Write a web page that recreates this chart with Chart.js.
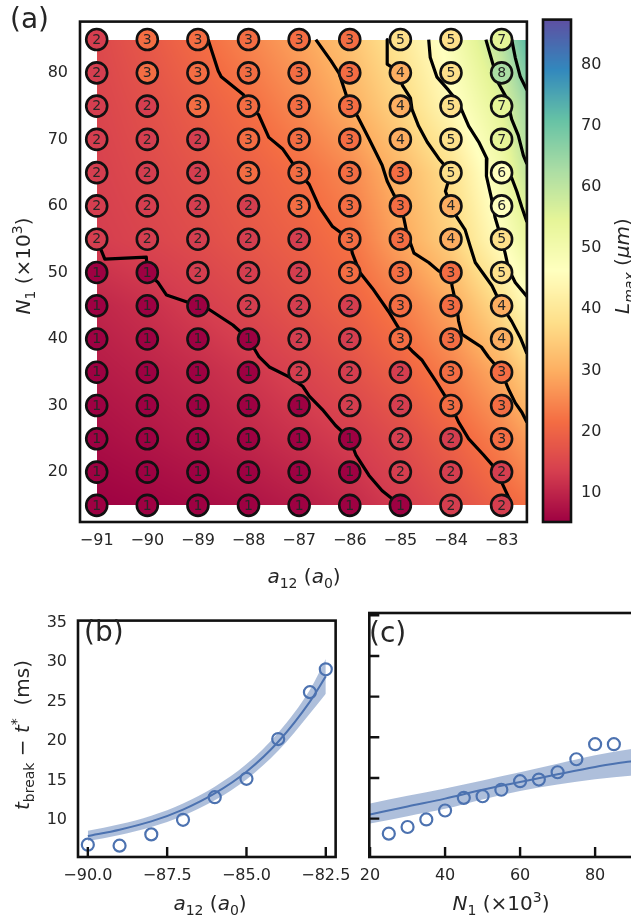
<!DOCTYPE html>
<html>
<head>
<meta charset="utf-8">
<title>Lmax y tiempos de ruptura</title>
<script src="https://cdn.jsdelivr.net/npm/chart.js@4.4.1/dist/chart.umd.min.js"></script>
<style>
  html, body { margin: 0; padding: 0; background: #fff; overflow: hidden; }
  #figura { position: relative; width: 631px; height: 916px; overflow: hidden; background: #fff; }
  #figura canvas { position: absolute; }
</style>
</head>
<body>
<div id="figura">
  <canvas id="mapa" width="540" height="600" style="left:0;top:0"></canvas>
  <canvas id="barra" width="101" height="600" style="left:530px;top:0"></canvas>
  <canvas id="panelB" width="360" height="316" style="left:0;top:600px"></canvas>
  <canvas id="panelC" width="320" height="316" style="left:340px;top:600px"></canvas>
</div>
<script>
// --- DATOS: PANEL (a) ---
const a12Malla = [-91, -90, -89, -88, -87, -86, -85, -84, -83];
const n1Filas = [85, 80, 75, 70, 65, 60, 55, 50, 45, 40, 35, 30, 25, 20, 15];
// número dentro de cada círculo (filas de arriba hacia abajo)
const conteos = [
    [2, 3, 3, 3, 3, 3, 5, 5, 7],
    [2, 3, 3, 3, 3, 3, 4, 5, 8],
    [2, 2, 3, 3, 3, 3, 4, 5, 7],
    [2, 2, 2, 3, 3, 3, 4, 5, 7],
    [2, 2, 2, 3, 3, 3, 3, 5, 6],
    [2, 2, 2, 2, 3, 3, 3, 4, 6],
    [2, 2, 2, 2, 2, 3, 3, 4, 5],
    [1, 1, 2, 2, 2, 3, 3, 3, 5],
    [1, 1, 1, 2, 2, 2, 3, 3, 4],
    [1, 1, 1, 1, 2, 2, 3, 3, 4],
    [1, 1, 1, 1, 2, 2, 2, 3, 3],
    [1, 1, 1, 1, 1, 2, 2, 3, 3],
    [1, 1, 1, 1, 1, 1, 2, 2, 3],
    [1, 1, 1, 1, 1, 1, 2, 2, 2],
    [1, 1, 1, 1, 1, 1, 1, 2, 2]
];

// Campo L_max (um) del fondo, filas de N1 = 15 a N1 = 85
const campoA12 = [-91, -90, -89, -88, -87, -86, -85, -84, -83, -82.5];
const campoN1 = [15, 25, 35, 45, 55, 65, 75, 85];
const campoLmax = [
    [5.2, 5.8, 6.6, 7.6, 8.9, 10.7, 13.2, 16.2, 19.8, 21.8],
    [7.0, 8.0, 9.1, 10.3, 11.8, 13.4, 16.0, 19.6, 24.3, 27.5],
    [8.6, 9.7, 10.9, 12.4, 14.3, 16.6, 19.6, 24.0, 29.9, 35.0],
    [10.2, 11.6, 13.4, 15.3, 17.4, 19.8, 23.5, 29.0, 38.1, 45.0],
    [13.4, 14.6, 16.0, 17.8, 19.6, 22.3, 28.8, 35.5, 46.3, 53.0],
    [14.0, 15.6, 17.3, 19.3, 21.6, 25.0, 31.2, 38.1, 50.4, 59.5],
    [14.6, 16.6, 19.0, 21.6, 25.3, 29.9, 36.3, 44.8, 55.0, 64.0],
    [15.2, 18.0, 21.2, 24.6, 28.4, 33.2, 39.8, 48.5, 61.0, 72.5]
];

// Curvas de nivel (a12, N1)
const nivel1 = [[-91, 55], [-90.84, 52.0], [-90.02, 52.3], [-90, 50], [-89.79, 48.5], [-89.62, 46.6], [-89, 45],
    [-88.77, 44.4], [-88.31, 42.1], [-88, 40], [-87.79, 37.3], [-87.59, 35.8], [-87.2, 34.3], [-86.93, 32.9],
    [-86.8, 31.4], [-86.54, 29.4], [-86.28, 27], [-86, 25], [-85.88, 22.6], [-85.62, 19.5], [-85.36, 17.2], [-85, 15]];
const nivel2 = [[-88.8, 85], [-88.6, 80.3], [-88.54, 79.4], [-88.1, 76.7], [-88, 75], [-87.8, 73.7], [-87.6, 70.3],
    [-87.33, 68.6], [-87, 65], [-86.8, 63.2], [-86.6, 59.8], [-86.34, 56.9], [-86, 55], [-85.95, 52.9], [-85.8, 50],
    [-85.55, 47.6], [-85.23, 44.1], [-85.03, 41.6], [-85, 40], [-84.77, 38.2], [-84.57, 36.8], [-84.31, 33.8],
    [-84, 30], [-83.85, 27.5], [-83.65, 25], [-83.36, 22.6], [-83.13, 20.6], [-82.86, 16.2], [-82.8, 15]];
const nivel3 = [[-86.67, 85], [-86.37, 81.8], [-86.21, 79.9], [-86.08, 76.9], [-86, 75], [-85.85, 73.5], [-85.62, 70.1],
    [-85.36, 66.1], [-85.26, 63.7], [-85.13, 61.7], [-85, 60], [-84.93, 58.1], [-84.87, 55.9], [-84.73, 52.9],
    [-84.44, 51.5], [-84.24, 50.2], [-84, 50], [-83.98, 48.0], [-83.88, 44.6], [-83.85, 42.7], [-83.78, 40.7],
    [-83.6, 39.8], [-83.4, 38.8], [-83.26, 37.3], [-83, 35], [-82.86, 32.4], [-82.73, 30.4], [-82.6, 29], [-82.5, 27.5]];
const nivel4 = [[-85.26, 85], [-85.26, 81.3], [-85, 80], [-84.96, 78.1], [-84.8, 76.2], [-84.77, 74.5], [-84.64, 72],
    [-84.47, 69.6], [-84.24, 67.1], [-84, 65], [-84.11, 62.2], [-84, 60], [-83.91, 58.6], [-83.72, 56.4],
    [-83.62, 53.9], [-83.52, 51.5], [-83.19, 48.0], [-83, 45], [-82.8, 42.65], [-82.63, 40.2], [-82.5, 37.8]];
const nivel5 = [[-84.44, 85], [-84.41, 82.3], [-84.28, 79.4], [-84.05, 77.4], [-83.85, 75.5], [-83.65, 72.0],
    [-83.45, 69.6], [-83.29, 67.1], [-83.3, 64.5], [-83.19, 60.8], [-83.13, 58.3], [-83, 55], [-82.93, 52.9],
    [-82.86, 50.5], [-82.73, 48.5], [-82.5, 46.4]];
const nivel6 = [[-83.31, 85], [-83.19, 81.8], [-83.06, 78.4], [-82.9, 76.2], [-82.8, 73], [-82.67, 70.6],
    [-82.57, 67.6], [-82.5, 66.3]];
const nivel6b = [[-83, 65], [-82.8, 64.2], [-82.7, 62.2], [-82.6, 59.8], [-82.5, 57.6]];
const nivel7 = [[-82.8, 85], [-82.73, 82.3], [-82.63, 79.4], [-82.5, 77.4]];
const curvasNivel = [nivel1, nivel2, nivel3, nivel4, nivel5, nivel6, nivel6b, nivel7];

const ticksA12 = [-91, -90, -89, -88, -87, -86, -85, -84, -83];
const ticksN1 = [20, 30, 40, 50, 60, 70, 80];

// Barra de color
const rangoBarra = [5.2, 87.4];
const ticksBarra = [10, 20, 30, 40, 50, 60, 70, 80];

// --- DATOS: PANEL (b) ---
const bA12 = [-90, -89, -88, -87, -86, -85, -84, -83, -82.5];
const bTiempo = [6.84, 6.72, 8.15, 10.0, 12.87, 15.2, 20.25, 26.2, 29.1];
const bAjusteA12 = [-90, -89, -88, -87, -86, -85, -84, -83, -82.5];
const bAjuste = [7.95, 8.75, 9.8, 11.3, 13.35, 16.1, 19.9, 25.0, 28.2];
const bBandaSup = [8.6, 9.43, 10.52, 12.08, 14.21, 17.07, 21.05, 26.5, 30.4];
const bBandaInf = [7.3, 8.07, 9.08, 10.52, 12.49, 15.13, 18.75, 23.5, 26.0];
const ticksB = [-90, -87.5, -85, -82.5];

// --- DATOS: PANEL (c) ---
const cN1 = [25, 30, 35, 40, 45, 50, 55, 60, 65, 70, 75, 80, 85];
const cTiempo = [8.15, 8.97, 9.9, 11.0, 12.55, 12.75, 13.55, 14.6, 14.8, 15.7, 17.3, 19.15, 19.15];
const cAjusteN1 = [20, 30, 40, 50, 60, 70, 80, 90.1];
const cAjuste = [10.5, 11.5, 12.46, 13.55, 14.5, 15.45, 16.35, 17.1];
const cBandaSup = [11.85, 12.8, 13.7, 14.7, 15.7, 16.75, 17.8, 18.6];
const cBandaInf = [9.4, 10.3, 11.2, 12.35, 13.4, 14.2, 14.85, 15.3];
const ticksC = [20, 40, 60, 80];
const ticksTiempo = [10, 15, 20, 25, 30, 35];

// --- ESTILO ---
const FUENTE = "'DejaVu Sans', sans-serif";
const TINTA = '#262626';
const AZUL = '#4c72b0';
const AZUL_BANDA = 'rgba(76, 114, 176, 0.45)';

Chart.defaults.font.family = FUENTE;
Chart.defaults.font.size = 16;
Chart.defaults.color = TINTA;

const SPECTRAL = ['#9e0142', '#d53e4f', '#f46d43', '#fdae61', '#fee08b', '#ffffbf',
                  '#e6f598', '#abdda4', '#66c2a5', '#3288bd', '#5e4fa2'];
const spectralRGB = SPECTRAL.map(h => [1, 3, 5].map(i => parseInt(h.slice(i, i + 2), 16)));

function colorMapa(v) {
    let t = (v - rangoBarra[0]) / (rangoBarra[1] - rangoBarra[0]);
    t = Math.min(1, Math.max(0, t)) * 10;
    const i = Math.min(9, Math.floor(t));
    const f = t - i;
    const a = spectralRGB[i], b = spectralRGB[i + 1];
    return [0, 1, 2].map(k => Math.round(a[k] + (b[k] - a[k]) * f));
}

function ubicar(arr, v) {
    let i = 0;
    while (i < arr.length - 2 && v > arr[i + 1]) i++;
    const f = (v - arr[i]) / (arr[i + 1] - arr[i]);
    return [i, Math.min(1, Math.max(0, f))];
}

// Interpolación bilineal del campo L_max
function lmaxEn(x, y) {
    const [i, fx] = ubicar(campoA12, x);
    const [j, fy] = ubicar(campoN1, y);
    const r0 = campoLmax[j], r1 = campoLmax[j + 1];
    const abajo = r0[i] + (r0[i + 1] - r0[i]) * fx;
    const arriba = r1[i] + (r1[i + 1] - r1[i]) * fx;
    return abajo + (arriba - abajo) * fy;
}

function conMenos(v, dec) {
    const s = Math.abs(v).toFixed(dec);
    return v < 0 ? '\u2212' + s : s;
}

// Texto con cursivas, subíndices y superíndices
function escribirMate(ctx, partes, x, y, tam, rot) {
    ctx.save();
    ctx.translate(x, y);
    if (rot) ctx.rotate(rot);
    const medidas = partes.map(p => {
        const fs = (p.sub || p.sup) ? tam * 0.7 : tam;
        const fuente = (p.it ? 'italic ' : '') + fs + 'px ' + FUENTE;
        ctx.font = fuente;
        return { p, fuente, w: ctx.measureText(p.t).width, dy: p.sub ? tam * 0.24 : (p.sup ? -tam * 0.4 : 0) };
    });
    const total = medidas.reduce((s, m) => s + m.w, 0);
    let cx = -total / 2;
    ctx.fillStyle = TINTA;
    ctx.textAlign = 'left';
    ctx.textBaseline = 'alphabetic';
    medidas.forEach(m => {
        ctx.font = m.fuente;
        ctx.fillText(m.p.t, cx, tam * 0.36 + m.dy);
        cx += m.w;
    });
    ctx.restore();
}

const etiquetaA12 = [{ t: 'a', it: 1 }, { t: '12', sub: 1 }, { t: ' (' }, { t: 'a', it: 1 }, { t: '0', sub: 1 }, { t: ')' }];
const etiquetaN1 = [{ t: 'N', it: 1 }, { t: '1', sub: 1 }, { t: ' (\u00d710' }, { t: '3', sup: 1 }, { t: ')' }];
const etiquetaLmax = [{ t: 'L', it: 1 }, { t: 'max', it: 1, sub: 1 }, { t: ' (' }, { t: '\u03bcm', it: 1 }, { t: ')' }];
const etiquetaTiempo = [{ t: 't', it: 1 }, { t: 'break', sub: 1 }, { t: ' \u2212 ' }, { t: 't', it: 1 }, { t: '*', sup: 1 }, { t: '  (ms)' }];

// --- PLUGINS ---
function pluginTextos(items) {
    return {
        id: 'textos',
        afterDraw(chart) {
            const ctx = chart.ctx;
            items.forEach(it => {
                if (it.mate) {
                    escribirMate(ctx, it.mate, it.x, it.y, it.tam, it.rot);
                } else {
                    ctx.save();
                    ctx.font = it.tam + 'px ' + FUENTE;
                    ctx.fillStyle = TINTA;
                    ctx.textAlign = 'left';
                    ctx.textBaseline = 'middle';
                    ctx.fillText(it.texto, it.x, it.y);
                    ctx.restore();
                }
            });
        }
    };
}

const pluginMarco = {
    id: 'marco',
    afterDraw(chart) {
        const { ctx, chartArea: a } = chart;
        ctx.save();
        ctx.strokeStyle = '#111';
        ctx.lineWidth = 2.6;
        ctx.strokeRect(a.left, a.top, a.right - a.left, a.bottom - a.top);
        ctx.restore();
    }
};

function pluginTicksDentro(valoresX, valoresY) {
    return {
        id: 'ticksDentro',
        afterDraw(chart) {
            const { ctx, chartArea: a, scales } = chart;
            ctx.save();
            ctx.strokeStyle = '#111';
            ctx.lineWidth = 2.4;
            ctx.beginPath();
            valoresX.forEach(v => {
                const px = scales.x.getPixelForValue(v);
                ctx.moveTo(px, a.bottom);
                ctx.lineTo(px, a.bottom - 10);
            });
            valoresY.forEach(v => {
                const py = scales.y.getPixelForValue(v);
                ctx.moveTo(a.left, py);
                ctx.lineTo(a.left + 10, py);
            });
            ctx.stroke();
            ctx.restore();
        }
    };
}

// Fondo continuo de L_max dibujado con las escalas del gráfico
const pluginFondo = {
    id: 'fondoLmax',
    beforeDatasetsDraw(chart) {
        const { ctx, chartArea: a, scales: { x, y } } = chart;
        const x0 = Math.round(x.getPixelForValue(campoA12[0]));
        const x1 = Math.min(Math.round(x.getPixelForValue(campoA12[campoA12.length - 1])), Math.ceil(a.right));
        const y0 = Math.round(y.getPixelForValue(campoN1[campoN1.length - 1]));
        const y1 = Math.round(y.getPixelForValue(campoN1[0]));
        const w = x1 - x0, h = y1 - y0;
        const lienzo = document.createElement('canvas');
        lienzo.width = w;
        lienzo.height = h;
        const lctx = lienzo.getContext('2d');
        const img = lctx.createImageData(w, h);
        for (let j = 0; j < h; j++) {
            const yv = y.getValueForPixel(y0 + j + 0.5);
            for (let i = 0; i < w; i++) {
                const xv = x.getValueForPixel(x0 + i + 0.5);
                const c = colorMapa(lmaxEn(xv, yv));
                const k = (j * w + i) * 4;
                img.data[k] = c[0];
                img.data[k + 1] = c[1];
                img.data[k + 2] = c[2];
                img.data[k + 3] = 255;
            }
        }
        lctx.putImageData(img, 0, 0);
        ctx.save();
        ctx.beginPath();
        ctx.rect(a.left, a.top, a.right - a.left, a.bottom - a.top);
        ctx.clip();
        ctx.drawImage(lienzo, x0, y0);
        ctx.restore();
    }
};

const pluginNumeros = {
    id: 'numeros',
    afterDatasetsDraw(chart) {
        const { ctx, scales: { x, y } } = chart;
        ctx.save();
        ctx.font = '14px ' + FUENTE;
        ctx.fillStyle = TINTA;
        ctx.textAlign = 'center';
        ctx.textBaseline = 'middle';
        n1Filas.forEach((n1, j) => {
            a12Malla.forEach((a12, i) => {
                ctx.fillText(String(conteos[j][i]), x.getPixelForValue(a12), y.getPixelForValue(n1) + 0.5);
            });
        });
        ctx.restore();
    }
};

const pluginGradiente = {
    id: 'gradiente',
    beforeDatasetsDraw(chart) {
        const { ctx, chartArea: a, scales: { y } } = chart;
        ctx.save();
        for (let py = Math.floor(a.top); py < Math.ceil(a.bottom); py++) {
            const c = colorMapa(y.getValueForPixel(py + 0.5));
            ctx.fillStyle = `rgb(${c[0]},${c[1]},${c[2]})`;
            ctx.fillRect(a.left, py, a.right - a.left, 1);
        }
        ctx.restore();
    }
};

function ejeFijo(extra) {
    return Object.assign({
        type: 'linear',
        grid: { display: false, drawTicks: false },
        border: { display: false }
    }, extra);
}

function fijarTicks(valores) {
    return s => { s.ticks = valores.map(v => ({ value: v })); };
}

const opcionesBase = {
    responsive: false,
    animation: false,
    devicePixelRatio: 1,
    events: [],
    plugins: { legend: { display: false }, tooltip: { enabled: false } }
};

// --- PANEL (a) ---
const puntosCirculos = [];
const coloresCirculos = [];
n1Filas.forEach((n1, j) => {
    a12Malla.forEach((a12, i) => {
        puntosCirculos.push({ x: a12, y: n1 });
        coloresCirculos.push(SPECTRAL[conteos[j][i] - 1]);
    });
});

const datasetsMapa = [{
    data: puntosCirculos,
    pointRadius: 10.5,
    pointBorderWidth: 2.6,
    pointBorderColor: '#111',
    pointBackgroundColor: coloresCirculos,
    showLine: false,
    order: 0
}];
curvasNivel.forEach(curva => {
    datasetsMapa.push({
        data: curva.map(p => ({ x: p[0], y: p[1] })),
        showLine: true,
        borderColor: '#000',
        borderWidth: 3.2,
        borderJoinStyle: 'round',
        pointRadius: 0,
        order: 1
    });
});

new Chart(document.getElementById('mapa'), {
    type: 'scatter',
    data: { datasets: datasetsMapa },
    options: Object.assign({}, opcionesBase, {
        layout: { padding: { left: 0, top: 10, right: 12, bottom: 0 } },
        scales: {
            x: ejeFijo({
                min: -91.33, max: -82.5,
                afterBuildTicks: fijarTicks(ticksA12),
                afterFit: s => { s.height = 78; },
                ticks: { padding: 9, autoSkip: false, maxRotation: 0, callback: v => conMenos(v, 0) }
            }),
            y: ejeFijo({
                min: 12.5, max: 87.7,
                afterBuildTicks: fijarTicks(ticksN1),
                afterFit: s => { s.width = 80; },
                ticks: { padding: 12, autoSkip: false, callback: v => String(v) }
            })
        }
    }),
    plugins: [pluginFondo, pluginNumeros, pluginMarco, pluginTextos([
        { mate: etiquetaA12, x: 304, y: 576, tam: 20 },
        { mate: etiquetaN1, x: 23, y: 266, tam: 20, rot: -Math.PI / 2 },
        { texto: '(a)', x: 10, y: 21, tam: 28 }
    ])]
});

// --- BARRA DE COLOR ---
new Chart(document.getElementById('barra'), {
    type: 'scatter',
    data: { datasets: [] },
    options: Object.assign({}, opcionesBase, {
        layout: { padding: { left: 13, top: 10, right: 0, bottom: 78 } },
        scales: {
            x: { type: 'linear', display: false, min: 0, max: 1 },
            y: ejeFijo({
                position: 'right',
                min: rangoBarra[0], max: rangoBarra[1],
                afterBuildTicks: fijarTicks(ticksBarra),
                afterFit: s => { s.width = 60; },
                ticks: { padding: 10, autoSkip: false, callback: v => String(v) }
            })
        }
    }),
    plugins: [pluginGradiente, pluginMarco, pluginTextos([
        { mate: etiquetaLmax, x: 92, y: 266, tam: 20, rot: -Math.PI / 2 }
    ])]
});

// --- PANELES (b) y (c) ---
function datasetsAjuste(xs, ys, xa, ajuste, sup, inf) {
    const par = (a, b) => a.map((v, i) => ({ x: v, y: b[i] }));
    return [
        { data: par(xs, ys), showLine: false, pointRadius: 6, pointBorderWidth: 2.2,
          pointBorderColor: AZUL, pointBackgroundColor: 'rgba(0,0,0,0)', order: 0 },
        { data: par(xa, ajuste), showLine: true, borderColor: AZUL, borderWidth: 2,
          pointRadius: 0, cubicInterpolationMode: 'monotone', order: 1 },
        { data: par(xa, sup), showLine: true, borderWidth: 0, borderColor: 'rgba(0,0,0,0)',
          backgroundColor: AZUL_BANDA, fill: '+1', pointRadius: 0, cubicInterpolationMode: 'monotone', order: 2 },
        { data: par(xa, inf), showLine: true, borderWidth: 0, borderColor: 'rgba(0,0,0,0)',
          pointRadius: 0, cubicInterpolationMode: 'monotone', order: 3 }
    ];
}

new Chart(document.getElementById('panelB'), {
    type: 'scatter',
    data: { datasets: datasetsAjuste(bA12, bTiempo, bAjusteA12, bAjuste, bBandaSup, bBandaInf) },
    options: Object.assign({}, opcionesBase, {
        layout: { padding: { left: 0, top: 13, right: 18, bottom: 0 } },
        scales: {
            x: ejeFijo({
                min: -90.31, max: -82.19,
                afterBuildTicks: fijarTicks(ticksB),
                afterFit: s => { s.height = 59; },
                ticks: { padding: 9, autoSkip: false, maxRotation: 0, callback: v => conMenos(v, 1) }
            }),
            y: ejeFijo({
                min: 5.28, max: 35.28,
                afterBuildTicks: fijarTicks(ticksTiempo),
                afterFit: s => { s.width = 78; },
                ticks: { padding: 11, autoSkip: false, callback: v => String(v) }
            })
        }
    }),
    plugins: [pluginTicksDentro(ticksB, []), pluginMarco, pluginTextos([
        { mate: etiquetaTiempo, x: 22, y: 135, tam: 20, rot: -Math.PI / 2 },
        { mate: etiquetaA12, x: 210, y: 303, tam: 20 },
        { texto: '(b)', x: 84, y: 34, tam: 28 }
    ])]
});

new Chart(document.getElementById('panelC'), {
    type: 'scatter',
    data: { datasets: datasetsAjuste(cN1, cTiempo, cAjusteN1, cAjuste, cBandaSup, cBandaInf) },
    options: Object.assign({}, opcionesBase, {
        layout: { padding: { left: 0, top: 13, right: 27, bottom: 0 } },
        scales: {
            x: ejeFijo({
                min: 19.8, max: 90.1,
                afterBuildTicks: fijarTicks(ticksC),
                afterFit: s => { s.height = 59; },
                ticks: { padding: 9, autoSkip: false, maxRotation: 0, callback: v => String(v) }
            }),
            y: ejeFijo({
                min: 5.28, max: 35.28,
                afterBuildTicks: fijarTicks(ticksTiempo),
                afterFit: s => { s.width = 29.3; },
                ticks: { display: false }
            })
        }
    }),
    plugins: [pluginTicksDentro(ticksC, ticksTiempo), pluginMarco, pluginTextos([
        { mate: etiquetaN1, x: 161, y: 303, tam: 20 },
        { texto: '(c)', x: 29, y: 35, tam: 28 }
    ])]
});
</script>
</body>
</html>
